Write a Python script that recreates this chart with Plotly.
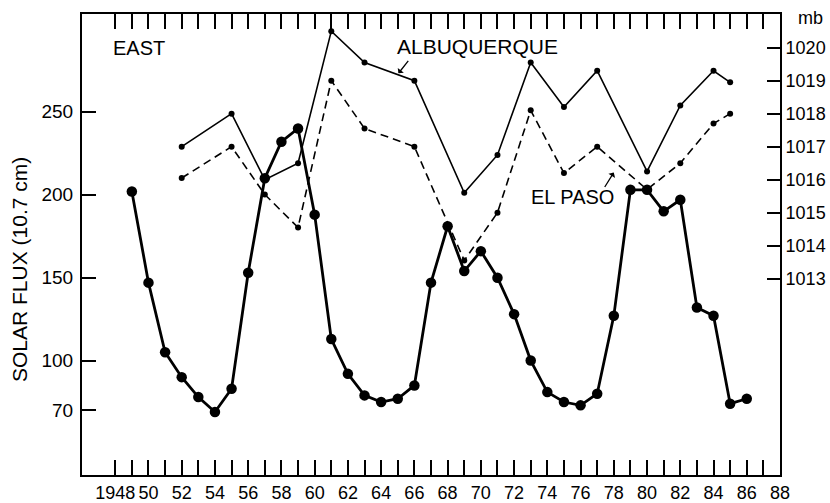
import plotly.graph_objects as go

# Solar flux (10.7 cm), annual values
solar_years = list(range(1949, 1987))
solar_flux = [202, 147, 105, 90, 78, 69, 83, 153, 210, 232, 240, 188, 113, 92, 79, 75, 77, 85,
              147, 181, 154, 166, 150, 128, 100, 81, 75, 73, 80, 127, 203, 203, 190, 197, 132, 127, 74, 77]

# Mean pressure (mb)
station_years = [1952, 1955, 1957, 1959, 1961, 1963, 1966, 1969, 1971, 1973, 1975, 1977, 1980, 1982, 1984, 1985]
albuquerque_mb = [1017.0, 1018.0, 1016.0, 1016.5, 1020.5, 1019.55, 1019.0, 1015.6, 1016.75, 1019.55,
                  1018.2, 1019.3, 1016.25, 1018.25, 1019.3, 1018.95]
el_paso_mb = [1016.05, 1017.0, 1015.55, 1014.55, 1019.0, 1017.55, 1017.0, 1013.55, 1015.0, 1018.1,
              1016.2, 1017.0, 1015.7, 1016.5, 1017.7, 1018.0]

x_tick_years = list(range(1948, 1989))
x_tick_text = ["1948"] + [("%02d" % (y % 100)) if y % 2 == 0 else "" for y in x_tick_years[1:]]
flux_ticks = [70, 100, 150, 200, 250]
mb_ticks = [1013, 1014, 1015, 1016, 1017, 1018, 1019, 1020]

FONT = "Liberation Sans, Arial, sans-serif"
X_RANGE = [1946, 1988]

fig = go.Figure()
fig.add_trace(go.Scatter(x=solar_years, y=solar_flux, mode="lines+markers",
                         line=dict(color="black", width=2.8),
                         marker=dict(color="black", size=10.5), xaxis="x", yaxis="y", showlegend=False))
fig.add_trace(go.Scatter(x=station_years, y=albuquerque_mb, mode="lines+markers",
                         line=dict(color="black", width=1.6),
                         marker=dict(color="black", size=6), xaxis="x2", yaxis="y2", showlegend=False))
fig.add_trace(go.Scatter(x=station_years, y=el_paso_mb, mode="lines+markers",
                         line=dict(color="black", width=1.6, dash="8px,5px"),
                         marker=dict(color="black", size=6), xaxis="x2", yaxis="y2", showlegend=False))

fig.update_layout(
    width=830, height=503,
    margin=dict(l=82, r=50, t=14, b=28),
    paper_bgcolor="white", plot_bgcolor="white",
    font=dict(family=FONT, size=18, color="black"),
    xaxis=dict(range=X_RANGE, tickvals=x_tick_years, ticktext=x_tick_text,
               ticks="inside", ticklen=15, tickwidth=1.5, tickcolor="black",
               showline=True, linecolor="black", linewidth=2,
               showgrid=False, zeroline=False, tickfont=dict(size=18), automargin=False),
    xaxis2=dict(range=X_RANGE, tickvals=x_tick_years, overlaying="x", side="top",
                ticks="inside", ticklen=15, tickwidth=1.5, tickcolor="black",
                showticklabels=False, showline=True, linecolor="black", linewidth=2,
                showgrid=False, zeroline=False, automargin=False, anchor="y2"),
    yaxis=dict(range=[31, 309], tickvals=flux_ticks, ticks="inside", ticklen=14, tickwidth=1.5,
               tickcolor="black", showline=True, linecolor="black", linewidth=2,
               showgrid=False, zeroline=False, tickfont=dict(size=19), ticklabelstandoff=3,
               automargin=False),
    yaxis2=dict(range=[1007.05, 1021.02], tickvals=mb_ticks, overlaying="y", side="right",
                anchor="x2",
                ticks="inside", ticklen=13, tickwidth=1.5, tickcolor="black",
                showline=True, linecolor="black", linewidth=2,
                showgrid=False, zeroline=False, tickfont=dict(size=18), ticklabelstandoff=0,
                automargin=False),
)

annotations = [
    dict(text="SOLAR FLUX (10.7 cm)", xref="paper", yref="paper", x=-0.0888, y=0.4447,
         textangle=-90, showarrow=False, font=dict(size=21), xanchor="center", yanchor="middle"),
    dict(text="EAST", xref="x", yref="y", x=1949.41, y=288.2, showarrow=False,
         font=dict(size=20), xanchor="center", yanchor="middle"),
    dict(text="ALBUQUERQUE", xref="x", yref="y", x=1969.8, y=289.6, showarrow=False,
         font=dict(size=21), xanchor="center", yanchor="middle"),
    dict(text="EL PASO", xref="x", yref="y", x=1975.54, y=198.8, showarrow=False,
         font=dict(size=20), xanchor="center", yanchor="middle"),
    dict(text="mb", xref="paper", yref="paper", x=1.043, y=0.991, showarrow=False,
         font=dict(size=18), xanchor="center", yanchor="middle"),
    dict(text="", xref="x", yref="y", x=1965.04, y=273.2, ax=11, ay=-14,
         showarrow=True, arrowhead=1, arrowsize=1, arrowwidth=1.3, arrowcolor="black"),
    dict(text="", xref="x", yref="y", x=1978.0, y=213.4, ax=-10, ay=16,
         showarrow=True, arrowhead=1, arrowsize=1, arrowwidth=1.3, arrowcolor="black"),
]
fig.update_layout(annotations=annotations)

fig.write_html("out.html", config={"displayModeBar": False},
               post_script="document.body.style.margin='0';document.body.style.padding='0';"
                           "document.body.style.overflow='hidden';")
